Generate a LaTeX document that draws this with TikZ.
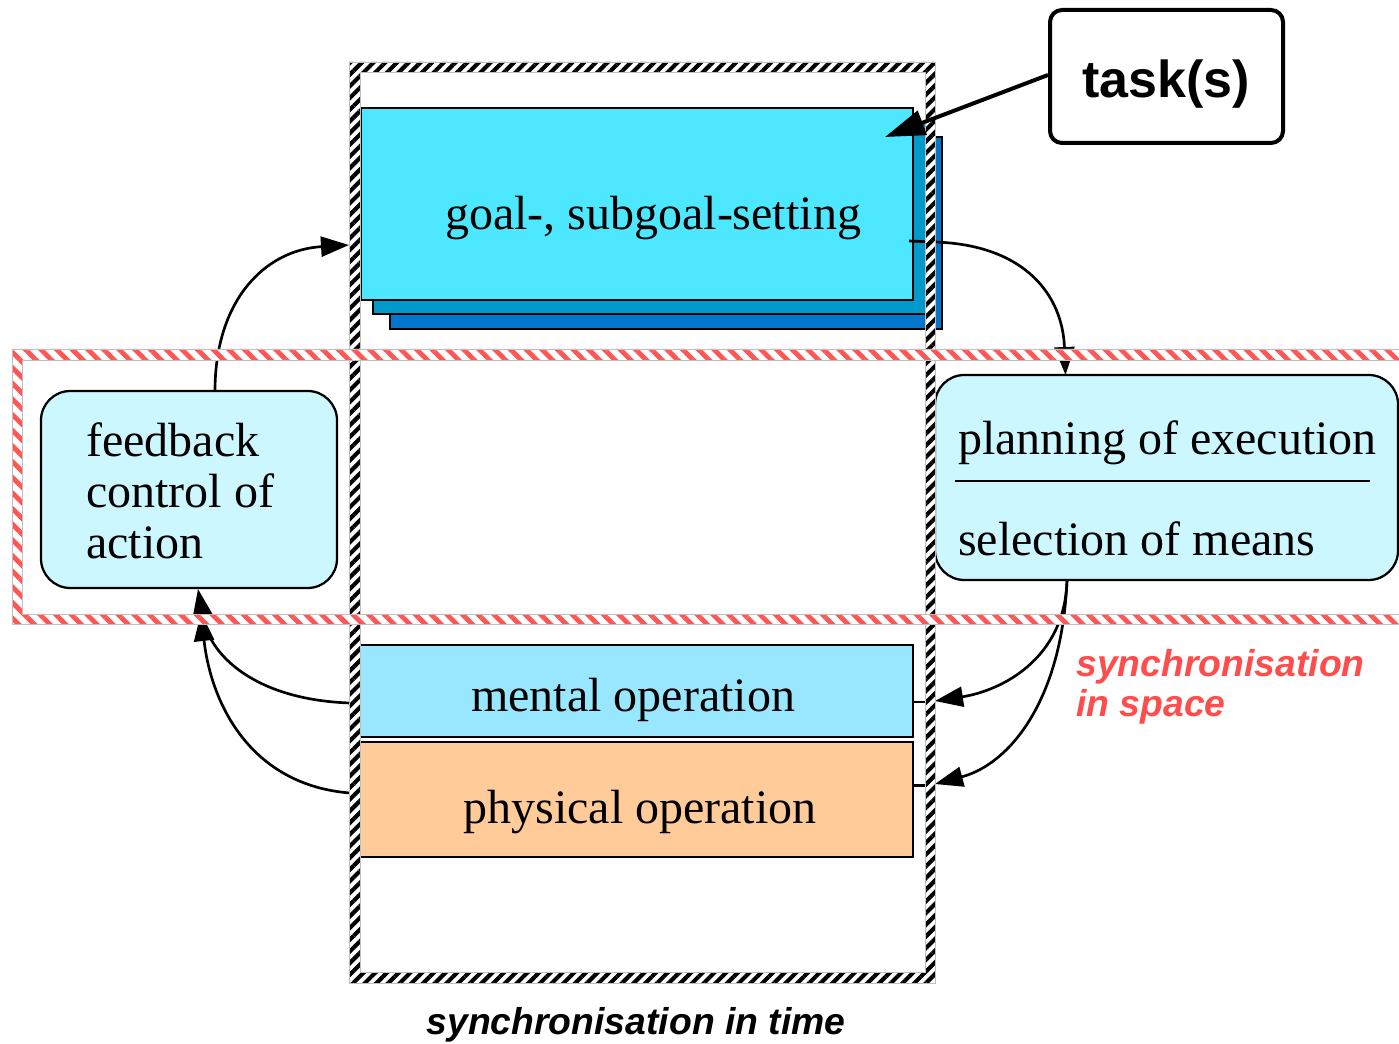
\documentclass[tikz,border=0pt]{standalone}
\usepackage{fontspec}
\setmainfont{Liberation Serif}
\newfontfamily\sansf{Liberation Sans}
\usetikzlibrary{arrows.meta,patterns.meta,calc}
\definecolor{goalfront}{RGB}{77,232,255}
\definecolor{goalmid}{RGB}{0,153,204}
\definecolor{goalback}{RGB}{0,119,204}
\definecolor{lightcyanbox}{RGB}{204,247,255}
\definecolor{mentalc}{RGB}{153,230,255}
\definecolor{physc}{RGB}{255,204,153}
\definecolor{syncred}{RGB}{255,77,77}
\definecolor{hatchred}{RGB}{255,85,85}
\begin{document}
\begin{tikzpicture}[x=0.75pt,y=-0.75pt,
  box/.style={draw=black,line width=1.7pt,inner sep=0pt,outer sep=0pt},
  rbox/.style={box,rounded corners=22pt,fill=lightcyanbox},
  conn/.style={line width=2pt},
  arr/.style={conn,-{Triangle[length=21pt,width=15pt]}},
  serifbig/.style={font=\fontsize{36}{40}\selectfont,inner sep=0pt},
  synclab/.style={font=\sansf\bfseries\itshape\fontsize{28}{32}\selectfont,inner sep=0pt}
]
\useasboundingbox (0,0) rectangle (1399,1044);
\fill[white] (0,0) rectangle (1399,1044);
\clip (0,0) rectangle (1399,1044);

% goal stack
\node[box,fill=goalback,minimum width=414pt,minimum height=144pt] (goalC) at (666,233) {};
\node[box,fill=goalmid,minimum width=415.5pt,minimum height=144pt] (goalB) at (650,218) {};
\node[box,fill=goalfront,minimum width=414pt,minimum height=144pt] (goal) at (637,204) {};

% task box
\node[draw,line width=3pt,rounded corners=9pt,minimum width=174.75pt,minimum height=99.75pt,fill=white,inner sep=0pt] (task) at (1166.5,76.5) {};

% other boxes
\node[rbox,minimum width=222pt,minimum height=147.75pt] (fb) at (189,489.5) {};
\node[rbox,minimum width=347.25pt,minimum height=153.75pt] (plan) at (1166.5,477.5) {};
\node[box,fill=mentalc,minimum width=415.5pt,minimum height=69pt] (mental) at (636,691) {};
\node[box,fill=physc,minimum width=415.5pt,minimum height=86.25pt] (phys) at (636,799.5) {};

% connectors
\draw[arr] ($(fb.north)+(26,0)$) .. controls +(0,-91) and +(-84,5) .. ($(goal.west)+(-12,41)$);
\draw[arr] ($(goal.east)+(-4,37)$) -- ++(26,1) .. controls +(90,3) and +(-3,-80) .. ($(plan.north)+(-101,0)$);
\draw[arr] ($(plan.south)+(-99.5,0)$) .. controls +(-2,80) and +(65,-10) .. ($(mental.east)+(22,10)$);
\draw[conn] ($(mental.east)+(0,11)$) -- ++(22,0);
\draw[arr] ($(plan.south)+(-99.5,0)$) .. controls +(-5,120) and +(75,-20) .. ($(phys.east)+(22,-15.5)$);
\draw[conn] ($(phys.east)+(0,-14)$) -- ++(22,0);
\draw[arr] ($(mental.west)+(0,12)$) -- ++(-9,0) .. controls +(-90,-3) and +(12,70) .. ($(fb.south)+(9,1)$);
\draw[arr] ($(phys.west)+(0,-6.5)$) -- ++(-9,0) .. controls +(-100,-8) and +(10,90) .. ($(fb.south)+(12,25)$);

% black hatched frame (synchronisation in time)
\fill[white,even odd rule] (349,62) rectangle (935,983) (360,72) rectangle (925,972);
\fill[even odd rule,pattern={Lines[angle=45,distance=6.2pt,line width=3.1pt]},pattern color=black]
  (349,62) rectangle (935,983) (360,72) rectangle (925,972);
\draw[black!25,line width=0.4pt] (349,62) rectangle (935,983) (360,72) rectangle (925,972);

% red hatched frame (synchronisation in space)
\fill[white,even odd rule] (12,349) rectangle (1420,624) (22,360) rectangle (1430,614);
\fill[even odd rule,pattern={Lines[angle=-45,distance=8.3pt,line width=3.6pt]},pattern color=hatchred]
  (12,349) rectangle (1420,624) (22,360) rectangle (1430,614);
\draw[black!25,line width=0.4pt] (12,349) -- (1420,349) (12,349) -- (12,624) -- (1420,624)
  (22,614) -- (22,360) -- (1420,360) (22,614) -- (1420,614);

% task arrow
\draw[line width=3pt,-{Triangle[length=30pt,width=19pt]}] ($(task.west)+(0,-1.5)$) -- ($(goal.north east)+(-28,29)$);

% texts
\node[serifbig,anchor=base] (tgoal) at (653,230) {goal-, subgoal-setting};
\node[serifbig,anchor=base west] (tfb1) at (86,457) {feedback};
\node[serifbig,anchor=base west] (tfb2) at (86,508) {control of};
\node[serifbig,anchor=base west] (tfb3) at (86,558) {action};
\node[serifbig,anchor=base west] (tplan1) at (958,455) {planning of execution};
\draw[line width=1.7pt] (955,481) -- (1370,481);
\node[serifbig,anchor=base west] (tplan2) at (958,555) {selection of means};
\node[serifbig,anchor=base] (tmental) at (633,711) {mental operation};
\node[serifbig,anchor=base] (tphys) at (640,823) {physical operation};
\node[font=\sansf\bfseries\fontsize{39}{44}\selectfont,inner sep=0pt,anchor=base] (ttask) at (1166,98) {task(s)};
\node[synclab,text=syncred,anchor=base west] (tsp1) at (1076,676) {synchronisation};
\node[synclab,text=syncred,anchor=base west] (tsp2) at (1076,716) {in space};
\node[synclab,anchor=base] (ttime) at (636,1034) {synchronisation in time};
\end{tikzpicture}
\end{document}
